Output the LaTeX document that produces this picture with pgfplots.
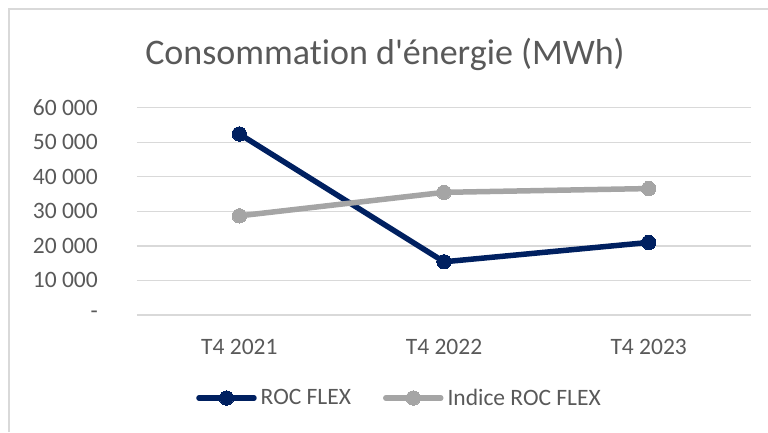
\documentclass[border=0pt]{standalone}
\usepackage{fontspec}
\setmainfont{Carlito}[Ligatures={NoCommon,TeXOff}]
\usepackage{pgfplots}
\pgfplotsset{compat=1.18}
\definecolor{navy}{HTML}{002060}
\definecolor{lgray}{HTML}{A5A5A5}
\definecolor{txt}{HTML}{595959}
\definecolor{gridc}{HTML}{D9D9D9}
\begin{document}
\begin{tikzpicture}[x=1pt,y=1pt]
\path[use as bounding box] (0,0) rectangle (768,432);
\draw[gridc, line width=1.5pt] (9,0) -- (9,423) -- (768,423);
\node[anchor=base, text=txt, font=\fontsize{36}{43}\selectfont, inner sep=0pt] at (385,367) {Consommation d'énergie (MWh)};
\begin{axis}[
  at={(137pt,117pt)}, anchor=south west,
  scale only axis, width=614pt, height=207.3pt,
  xmin=-0.5, xmax=2.5, ymin=0, ymax=60000,
  axis line style={draw=none},
  major tick length=0pt,
  xtick={0,1,2},
  xticklabels={T4 2021, T4 2022, T4 2023},
  ytick={0,10000,20000,30000,40000,50000,60000},
  yticklabels={-\hspace{11pt}, 10 000, 20 000, 30 000, 40 000, 50 000, 60 000},
  ymajorgrids,
  grid style={draw=gridc, line width=1.2pt},
  tick label style={font=\fontsize{23.5}{28}\selectfont, text=txt},
  xticklabel style={anchor=north, inner sep=0pt, yshift=-24pt},
  yticklabel style={anchor=east, inner sep=0pt, xshift=-39pt},
  scaled y ticks=false,
  legend columns=2,
  legend style={at={(axis description cs:0.4259,-0.4004)}, anchor=center,
    draw=none, fill=none, font=\fontsize{23.5}{28}\selectfont, text=txt,
    nodes={inner sep=0pt}, column sep=4pt},
  legend image code/.code={\draw[mark repeat=2,mark phase=2] plot coordinates {(0pt,0pt) (27.5pt,0pt) (55pt,0pt)};},
  every axis plot/.append style={line width=5.5pt, line cap=round, line join=round},
  clip=false,
]
\pgfplotsset{/tikz/every even column/.append style={column sep=32pt}}
\addplot[navy, mark=*, mark size=7.2pt, mark options={fill=navy, draw=navy, line width=0pt}]
  coordinates {(0,52400) (1,15400) (2,21000)};
\addlegendentry{ROC FLEX}
\addplot[lgray, mark=*, mark size=7.2pt, mark options={fill=lgray, draw=lgray, line width=0pt}]
  coordinates {(0,28700) (1,35500) (2,36600)};
\addlegendentry{Indice ROC FLEX}
\end{axis}
\end{tikzpicture}
\end{document}
